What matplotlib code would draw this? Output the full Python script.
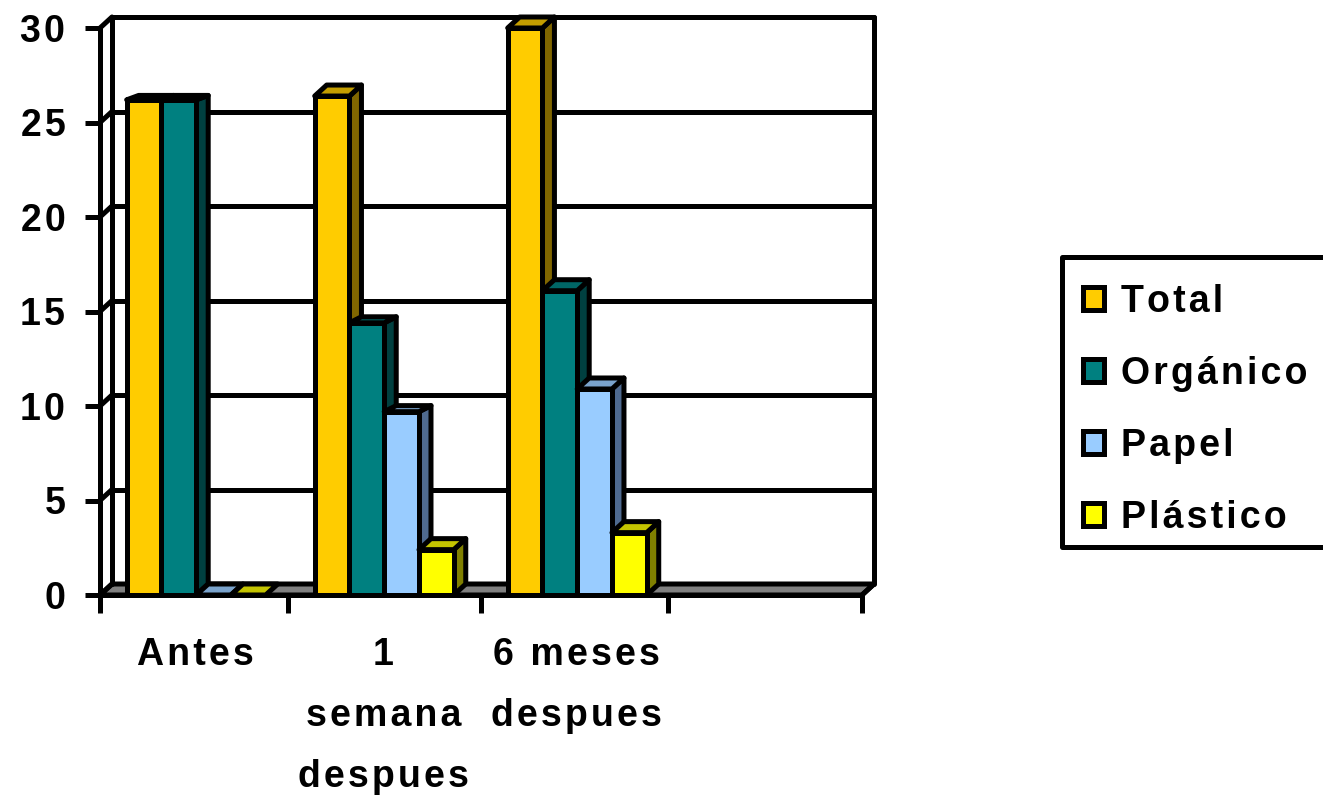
import matplotlib
matplotlib.use("Agg")
import matplotlib.pyplot as plt
from matplotlib.patches import Patch, Polygon, Rectangle

plt.rcParams['font.family'] = ['Liberation Sans', 'DejaVu Sans']

categories = ["Antes", "1\nsemana\ndespues", "6 meses\ndespues", ""]
series_names = ["Total", "Orgánico", "Papel", "Plástico"]
total = [26.2, 26.4, 30]
organico = [26.2, 14.4, 16.1]
papel = [0, 9.7, 10.9]
plastico = [0, 2.4, 3.3]
series = [total, organico, papel, plastico]
front_colors = ["#FFCC00", "#008080", "#99CCFF", "#FFFF00"]
top_colors = ["#C49E00", "#006666", "#7AA3CC", "#C4C400"]
side_colors = ["#806600", "#004040", "#4F6A8F", "#808000"]
y_ticks = [0, 5, 10, 15, 20, 25, 30]
x_ticks = [0, 0.987, 2, 2.982, 4]
label_pos = [0.50, 1.487, 2.50, 3.49]
top_depth = [[0.4, 0.4, 1, 1], [1, 0.55, 0.55, 1], [1, 1, 1, 1]]


def track(s):
    return "\n".join("\u200a".join(line) for line in s.split("\n"))


W, H = 1323, 795
fig = plt.figure(figsize=(W / 100, H / 100), dpi=100, facecolor="white")
L, R, T, B = 100, 862, 28, 595
ax = fig.add_axes([L / W, 1 - B / H, (R - L) / W, (B - T) / H])
ax.set_xlim(0, 4)
ax.set_ylim(0, 30)
ax.patch.set_visible(False)

dx = 12 / ((R - L) / 4)
dy = 11 / ((B - T) / 30)
LW = 3.6
k = "black"
line = dict(color=k, lw=LW, clip_on=False, zorder=1, solid_capstyle="round")
poly = dict(closed=True, ec=k, lw=LW, clip_on=False, joinstyle="round")

# floor
ax.add_patch(Polygon([(0, 0), (dx, dy), (4 + dx, dy), (4, 0)], fc="#808080", zorder=1, **poly))
# walls and gridlines
for v in y_ticks[1:]:
    ax.plot([dx, 4 + dx], [v + dy, v + dy], **line)
for v in y_ticks:
    ax.plot([0, dx], [v, v + dy], **line)
ax.plot([dx, dx], [dy, 30 + dy], **line)
ax.plot([4 + dx, 4 + dx], [dy, 30 + dy], **line)
ax.plot([4, 4 + dx], [0, dy], **line)

# bars
bw = 0.1825
start = 0.14
z = 3
for c in range(3):
    for s, vals in enumerate(series):
        x0 = x_ticks[c] + start + s * bw
        v = vals[c]
        x1 = x0 + bw
        if v > 0:
            d = dy * top_depth[c][s]
            ax.add_patch(Polygon([(x1, 0), (x1 + dx, dy), (x1 + dx, v + d), (x1, v)],
                                 fc=side_colors[s], zorder=z, **poly))
            ax.add_patch(Polygon([(x0, v), (x0 + dx, v + d), (x1 + dx, v + d), (x1, v)],
                                 fc=top_colors[s], zorder=z, **poly))
            bars = ax.bar(x0, v, width=bw, align="edge", color=front_colors[s], edgecolor=k,
                          linewidth=LW, clip_on=False, zorder=z + 0.5)
            for b in bars:
                b.set_joinstyle("round")
        else:
            ax.add_patch(Polygon([(x0, 0), (x0 + dx, dy), (x1 + dx, dy), (x1, 0)],
                                 fc=top_colors[s], zorder=z, **poly))
        z += 1

for sp in ("top", "right"):
    ax.spines[sp].set_visible(False)
for sp in ("left", "bottom"):
    ax.spines[sp].set_linewidth(LW)
    ax.spines[sp].set_zorder(40)

ax.set_yticks(y_ticks)
ax.set_yticklabels([track(str(v)) for v in y_ticks])
ax.tick_params(axis="y", length=11, width=LW, pad=14, labelsize=27)
for t in ax.get_yticklabels():
    t.set_fontweight("bold")

ax.set_xticks(x_ticks)
ax.set_xticklabels([])
ax.tick_params(axis="x", which="major", length=13, width=LW)
ax.set_xticks(label_pos, minor=True)
ax.set_xticklabels([track(c) for c in categories], minor=True, fontsize=27, fontweight="bold", linespacing=1.9)
ax.tick_params(axis="x", which="minor", length=0, pad=30)

# legend frame, then a frameless legend placed inside it
fig.add_artist(Rectangle((1062 / W, 1 - 546.5 / H), 264 / W, 290 / H, transform=fig.transFigure,
                         fc="white", ec=k, lw=LW, joinstyle="round", zorder=5))
handles = [Patch(facecolor=c, edgecolor=k, linewidth=LW, joinstyle="round") for c in front_colors]
leg = fig.legend(handles, [track(n) for n in series_names], loc="lower left",
                 bbox_to_anchor=(1062 / W, 1 - 556.5 / H),
                 prop={"weight": "bold", "size": 27}, frameon=False,
                 handlelength=0.56, handleheight=0.56,
                 handletextpad=0.46, labelspacing=0.96, borderpad=0.55, borderaxespad=0)
leg.set_zorder(6)

fig.savefig("out.png", dpi=100)
